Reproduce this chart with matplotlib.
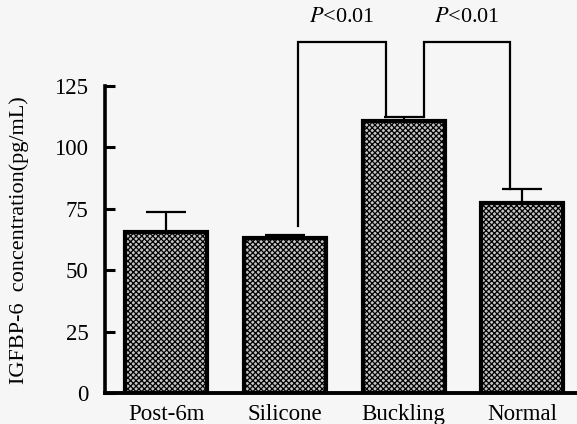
import numpy as np
import matplotlib.pyplot as plt

plt.rcParams['font.family'] = ['Liberation Serif', 'DejaVu Serif']
plt.rcParams['mathtext.fontset'] = 'stix'
plt.rcParams['hatch.linewidth'] = 0.9

# data
groups = ['Post-6m', 'Silicone', 'Buckling', 'Normal']
means = [65.7, 63.2, 110.6, 77.5]
sems = [7.8, 1.3, 1.6, 5.4]
yticks = [0, 25, 50, 75, 100, 125]
# significance brackets: (left group, right group, label)
comparisons = [(1, 2, 'P<0.01'), (2, 3, 'P<0.01')]

fig = plt.figure(figsize=(5.77, 4.24), dpi=100)
fig.patch.set_facecolor('#f6f6f6')
ax = fig.add_axes([105/577, 1 - 393/424, 1 - 105/577, 393/424])
ax.set_facecolor('none')

x = np.arange(len(groups))
ax.errorbar(x, means, yerr=[np.zeros(len(sems)), sems], fmt='none',
            ecolor='black', elinewidth=1.6, capsize=14.5, capthick=1.6, zorder=1)
ax.bar(x, means, width=0.69, color='#c4c4c4', edgecolor='black',
       linewidth=3, hatch='xxxxxx', zorder=2)

# brackets
top = 143
for i, j, txt in comparisons:
    yi = means[i] + sems[i]
    yj = means[j] + sems[j]
    xi = x[i] + (0.11 if i == 1 else 0.17)
    xj = x[j] - (0.15 if j == 2 else 0.10)
    if i == 1:
        yi = yi + 3.3
    ax.plot([xi, xi, xj, xj], [yi, top, top, yj], color='black', lw=1.6,
            clip_on=False, solid_joinstyle='miter')
    ax.text((xi + xj) / 2 + 0.0, 153, r'$P$<0.01', ha='center', va='center',
            fontsize=16)

ax.set_xlim(-0.514, 3.46)
ax.set_ylim(0, 160)
ax.set_xticks(x)
ax.set_xticklabels(groups, fontsize=16.5)
ax.set_yticks(yticks)
ax.set_yticklabels([str(t) for t in yticks], fontsize=16.5)
ax.tick_params(axis='x', length=0, pad=8)
ax.tick_params(axis='y', direction='in', length=7, width=2.2, pad=12)

for s in ['top', 'right']:
    ax.spines[s].set_visible(False)
ax.spines['left'].set_linewidth(2.6)
ax.spines['bottom'].set_linewidth(2.8)
ax.spines['left'].set_bounds(0, 125)

ax.set_ylabel('IGFBP-6  concentration(pg/mL)', fontsize=16)
ax.yaxis.set_label_coords(-0.16, 0.39)

fig.savefig('out.png', dpi=100, facecolor=fig.get_facecolor())
